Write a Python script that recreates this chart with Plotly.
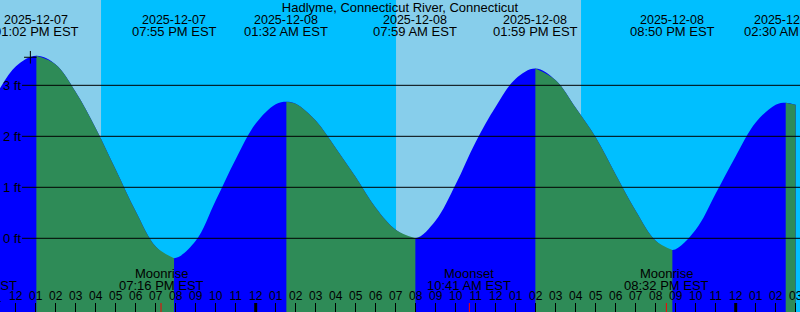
import pandas as pd
import plotly.graph_objects as go

# ---------------- data ----------------
STATION = "Hadlyme, Connecticut River, Connecticut"
TZ = "EST"

# tide height (ft) read every hour, starting 2025-12-07 11:00
hourly_start = "2025-12-07 11:00"
hourly_ft = [2.79, 3.37, 3.58, 3.41, 2.87, 2.16, 1.35, 0.53, -0.16, -0.39,
             -0.05, 0.74, 1.55, 2.25, 2.63, 2.64, 2.31, 1.77, 1.20, 0.60,
             0.17, 0.00, 0.35, 1.06, 1.89, 2.58, 3.13, 3.33, 3.10, 2.56,
             1.98, 1.25, 0.54, -0.05, -0.22, 0.17, 0.88, 1.61, 2.27, 2.62, 2.62]

# high / low tide events
extreme_times = ["2025-12-07 13:02", "2025-12-07 19:55", "2025-12-08 01:32",
                 "2025-12-08 07:59", "2025-12-08 13:59", "2025-12-08 20:50",
                 "2025-12-09 02:30"]
extreme_kind = ["High", "Low", "High", "Low", "High", "Low", "High"]
extreme_ft = [3.58, -0.39, 2.68, 0.00, 3.33, -0.23, 2.66]

# moon events
moon_times = ["2025-12-07 09:58", "2025-12-07 19:16", "2025-12-08 10:41", "2025-12-08 20:32"]
moon_events = ["Moonset", "Moonrise", "Moonset", "Moonrise"]

# daylight periods (sunrise, sunset)
day_starts = ["2025-12-07 07:00", "2025-12-08 07:01"]
day_ends = ["2025-12-07 16:16", "2025-12-08 16:16"]

# "now" marker
now_time = ["2025-12-07 12:44"]
now_ft = [3.55]

ft_ticks = [0, 1, 2, 3]
ft_labels = ["0 ft", "1 ft", "2 ft", "3 ft"]
x_range = ["2025-12-07 11:12:54", "2025-12-09 03:12:54"]
y_range = [-1.445, 4.673]

# ---------------- styling ----------------
W, H = 800, 312
FONT = "Liberation Sans, Arial, sans-serif"
DAY = "#87CEEB"
NIGHT = "#00BFFF"
FLOOD = "#0000FF"
EBB = "#2E8B57"

hours = pd.date_range(hourly_start, periods=len(hourly_ft), freq="h")
ext_t = pd.to_datetime(extreme_times)
hourly = pd.Series(hourly_ft, index=hours)
ext = pd.Series(extreme_ft, index=ext_t)
keep = [h for h in hours if min(abs((h - e).total_seconds()) for e in ext_t) > 25 * 60]
curve = pd.concat([hourly.loc[keep], ext]).sort_index()

fig = go.Figure()


def add_fill(seg, color):
    fig.add_trace(go.Scatter(x=[seg.index[0], seg.index[-1]], y=[y_range[0], y_range[0]],
                             mode="lines", line=dict(width=0), hoverinfo="skip",
                             showlegend=False))
    fig.add_trace(go.Scatter(x=seg.index, y=seg.values, mode="lines",
                             line=dict(width=0, shape="spline"), fill="tonexty",
                             fillcolor=color, hoverinfo="skip", showlegend=False))


# rising tide colour for the whole curve, falling sections on top
add_fill(curve, FLOOD)
for i, kind in enumerate(extreme_kind):
    if kind == "High":
        end = ext_t[i + 1] if i + 1 < len(ext_t) else curve.index[-1]
        add_fill(curve.loc[ext_t[i]:end], EBB)

fig.add_trace(go.Scatter(x=pd.to_datetime(now_time), y=now_ft, mode="markers",
                         marker=dict(symbol="cross-thin", size=9,
                                     line=dict(color="black", width=1)),
                         hoverinfo="skip", showlegend=False, cliponaxis=False))

shapes = []
for s, e in zip(day_starts, day_ends):
    shapes.append(dict(type="rect", xref="x", yref="paper", x0=s, x1=e, y0=0, y1=1,
                       fillcolor=DAY, line=dict(width=0), layer="below"))
for v in ft_ticks:
    shapes.append(dict(type="line", xref="paper", yref="y", x0=22 / W, x1=1, y0=v, y1=v,
                       line=dict(color="black", width=1)))

r0, r1 = pd.to_datetime(x_range)
tick_h = 9 / H
for m in pd.date_range(r0.ceil("D"), r1, freq="D"):
    shapes.append(dict(type="line", xref="x", yref="paper", x0=m, x1=m, y0=0, y1=tick_h,
                       line=dict(color="black", width=3)))
for mt in pd.to_datetime(moon_times):
    if r0 <= mt <= r1:
        shapes.append(dict(type="line", xref="x", yref="paper", x0=mt, x1=mt, y0=0, y1=tick_h,
                           line=dict(color="red", width=1)))

ann = []


def font(size):
    return dict(family=FONT, size=size, color="black")


def label(x, ypx, text, size, xref="x"):
    ann.append(dict(x=x, y=1 - ypx / H, xref=xref, yref="paper", text=text, showarrow=False,
                    xanchor="center", yanchor="middle", font=font(size)))


for t in ext_t:
    label(t, 19.5, t.strftime("%Y-%m-%d"), 12.5)
    label(t, 31.5, t.strftime("%I:%M %p ") + TZ, 13)

span = (r1 - r0).total_seconds()
for mt, name in zip(pd.to_datetime(moon_times), moon_events):
    if r0 <= mt <= r1:
        xv, xr = mt, "x"
    else:
        xv, xr = (mt - r0).total_seconds() / span, "paper"
    label(xv, 273.5, name, 13, xr)
    label(xv, 285.5, mt.strftime("%I:%M %p ") + TZ, 13, xr)

# partially visible hour label left of the range
first_hour = r0.floor("h")
label((first_hour - r0).total_seconds() / span, 297.5, first_hour.strftime("%I"), 12, "paper")

fig.update_layout(
    width=W, height=H,
    margin=dict(l=0, r=0, t=0, b=0, pad=0),
    plot_bgcolor=NIGHT, paper_bgcolor=NIGHT,
    font=font(12),
    title=dict(text=STATION, x=0.5, xanchor="center", y=1 - 7.5 / H, yanchor="middle",
               font=font(13)),
    shapes=shapes, annotations=ann,
    xaxis=dict(type="date", range=[r0, r1], dtick=3600000, tick0="2025-12-07 00:00",
               tickformat="%I", ticks="inside", ticklen=9, tickwidth=1, tickcolor="black",
               ticklabelposition="inside", ticklabeloverflow="allow",
               showgrid=False, zeroline=False, showline=False, fixedrange=True,
               tickfont=font(12), automargin=False),
    yaxis=dict(range=y_range, tickmode="array", tickvals=ft_ticks, ticktext=ft_labels,
               ticks="", ticklabelposition="inside", ticklabeloverflow="allow",
               showgrid=False, zeroline=False, showline=False,
               fixedrange=True, tickfont=font(13), automargin=False),
    showlegend=False,
)

fig.write_html("out.html", config={"displayModeBar": False})
